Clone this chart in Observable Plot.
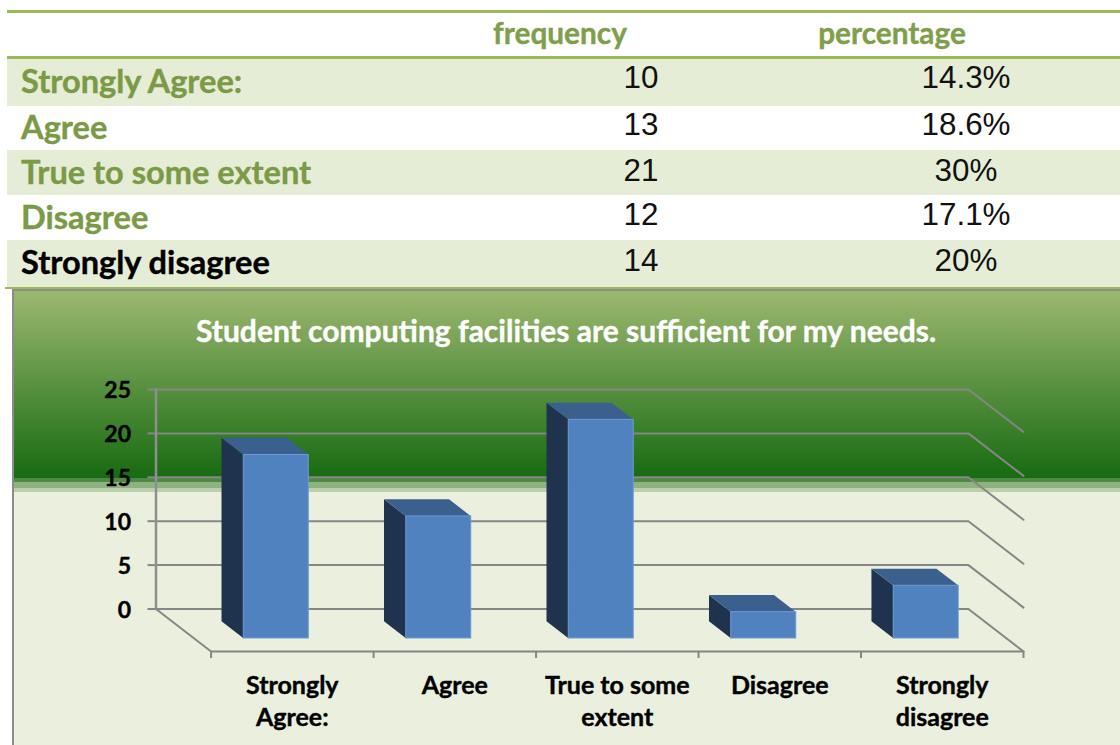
<!DOCTYPE html>
<html><head><meta charset="utf-8">
<script src="https://cdn.jsdelivr.net/npm/d3@7"></script>
<script src="https://cdn.jsdelivr.net/npm/@observablehq/plot@0.6"></script>
<style>
html,body{margin:0;padding:0;background:#fff;}
#page{position:relative;width:1120px;height:745px;overflow:hidden;font-variant-ligatures:none;}
.rule{position:absolute;background:#9BBB59;}
.band{position:absolute;left:7px;right:0;background:#E6EDD7;}
.t{position:absolute;white-space:nowrap;transform:translate(0,-50%);line-height:1;}
.lab{font:700 32.6px Lato,sans-serif;color:#7A9A45;-webkit-text-stroke:.4px currentColor;}
.num{font:400 31.4px "Liberation Sans",Arial,sans-serif;color:#111;transform:translate(-50%,-50%);}
.head{font:700 29.8px Lato,sans-serif;color:#7F9F4C;transform:translate(-50%,-50%);-webkit-text-stroke:.4px currentColor;}
#panel{position:absolute;left:12px;right:0;top:289px;height:456px;box-sizing:border-box;
 border-left:2.5px solid #8c8c8c;border-top:2px solid #8c8c8c;
 background:linear-gradient(to bottom,#9CB86F 0px,#176B12 187px,#4F8A45 187px,#4F8A45 191px,#8FB282 191px,#8FB282 197px,#BBD0AA 197px,#BBD0AA 201px,#EBEFDE 201px);}
#title{position:absolute;left:-14.5px;width:1133px;top:21px;text-align:center;font:700 30px Lato,sans-serif;color:#fff;line-height:36px;white-space:nowrap;-webkit-text-stroke:.4px #fff;}
#chart{position:absolute;left:0;top:371px;}
</style></head>
<body><div id="page"></div>
<script>
const categories = ["Strongly Agree:", "Agree", "True to some extent", "Disagree", "Strongly disagree"];
const axisLabels = ["Strongly\nAgree:", "Agree", "True to some\nextent", "Disagree", "Strongly\ndisagree"];
const frequency = ["10", "13", "21", "12", "14"];
const percentage = ["14.3%", "18.6%", "30%", "17.1%", "20%"];
const columnHeads = ["frequency", "percentage"];
const barValues = [20.9, 13.9, 24.9, 3, 6];
const yTicks = [0, 5, 10, 15, 20, 25];
const chartTitle = "Student computing facilities are sufficient for my needs.";

const page = document.getElementById("page");
function add(cls, css, text) {
  const d = document.createElement("div");
  d.className = cls; d.style.cssText = css;
  if (text != null) d.textContent = text;
  page.appendChild(d); return d;
}
// table
const rowTops = [59, 106, 150, 195, 240, 287];
[0, 2, 4].forEach(i => add("band", `top:${rowTops[i]}px;height:${rowTops[i+1]-rowTops[i]}px`));
add("rule", "left:7px;right:0;top:10px;height:3px");
add("rule", "left:7px;right:0;top:56px;height:3px");
add("rule", "left:5px;right:0;top:287px;height:2px");
add("t head", "left:560px;top:32px", columnHeads[0]);
add("t head", "left:892px;top:32px", columnHeads[1]);
const labelY = [80, 126, 171, 216, 261], valueY = [78, 125, 171, 215, 261];
categories.forEach((c, i) => {
  add("t lab", `left:21px;top:${labelY[i]}px;${i === 4 ? "color:#000" : ""}`, c);
  add("t num", `left:641px;top:${valueY[i]}px`, frequency[i]);
  add("t num", `left:966px;top:${valueY[i]}px`, percentage[i]);
});
// chart panel
const panel = add("", "");
panel.id = "panel";
const title = document.createElement("div");
title.id = "title"; title.textContent = chartTitle; panel.appendChild(title);

// pseudo-3D projection in data units: depth 0 = back wall, 1 = front edge of floor
const depthX = 0.339, depthY = 4.84;
const px = (c, d) => c - (1 - d) * depthX;
const py = (v, d) => v - d * depthY;
const n = categories.length;

const gridLines = yTicks.flatMap(t => [
  {t, x: px(0, 0), y: py(t, 0)},
  {t, x: px(n, 0), y: py(t, 0)},
  {t, x: px(n, 1), y: py(t, 1)}
]);
const wall = [{x: px(0, 0), y: 0}, {x: px(0, 0), y: 25}];
const floorEdge = [
  {x: px(0, 0), y: py(0, 0)}, {x: px(0, 1), y: py(0, 1)}, {x: px(n, 1), y: py(0, 1)}
];
const floorTicks = d3.range(n + 1).map(i => ({x: i, y1: py(0, 1), y2: py(0, 1) - 0.8}));

const dFront = 0.694, dBack = 0.29, left = 0.305, right = 0.705;
const faces = (fn) => barValues.flatMap((v, i) => fn(v, i).map(([c, val, d]) => ({id: i, x: px(c, d), y: py(val, d)})));
const sideFaces = faces((v, i) => [[i+left,0,dFront],[i+left,v,dFront],[i+left,v,dBack],[i+left,0,dBack],[i+left,0,dFront]]);
const topFaces = faces((v, i) => [[i+left,v,dFront],[i+right,v,dFront],[i+right,v,dBack],[i+left,v,dBack],[i+left,v,dFront]]);
const frontFaces = barValues.map((v, i) => ({
  x1: px(i+left, dFront), x2: px(i+right, dFront), y1: py(0, dFront), y2: py(v, dFront)
}));
const labelData = axisLabels.map((l, i) => ({l, x: i + 0.5, y: py(0, 1)}));

const gray = "#868686";
const chart = Plot.plot({
  width: 1120, height: 374,
  marginLeft: 155.5, marginRight: 97, marginTop: 18, marginBottom: 136.5,
  style: {background: "transparent", overflow: "visible"},
  x: {type: "linear", domain: [-depthX, n], axis: null},
  y: {type: "linear", domain: [0, 25], axis: null},
  marks: [
    Plot.axisY({ticks: yTicks, tickSize: 8, text: null, stroke: gray, strokeWidth: 2, label: null}),
    Plot.axisY({ticks: yTicks, tickSize: 0, tickPadding: 25, dy: 1.5,
      fill: "#000", fontSize: 23, fontWeight: 700, fontFamily: "Lato, sans-serif", label: null,
      textStroke: "#000", textStrokeWidth: 0.4}),
    Plot.line(gridLines, {x: "x", y: "y", z: "t", stroke: gray, strokeWidth: 2}),
    Plot.line(wall, {x: "x", y: "y", stroke: "#8f8f8f", strokeWidth: 2.5}),
    Plot.line(floorEdge, {x: "x", y: "y", stroke: gray, strokeWidth: 2}),
    Plot.ruleX(floorTicks, {x: "x", y1: "y1", y2: "y2", stroke: gray, strokeWidth: 2}),
    Plot.line(sideFaces, {x: "x", y: "y", z: "id", fill: "#1F324E", stroke: "none"}),
    Plot.line(topFaces, {x: "x", y: "y", z: "id", fill: "#3C608E", stroke: "none"}),
    Plot.rect(frontFaces, {x1: "x1", x2: "x2", y1: "y1", y2: "y2", fill: "#5082BF", stroke: "#6E9BD2", strokeWidth: 1}),
    Plot.text(labelData, {x: "x", y: "y", text: "l", dy: 19, lineAnchor: "top", lineHeight: 1.3,
      fontSize: 25, fontWeight: 700, fontFamily: "Lato, sans-serif", fill: "#000", stroke: "#000", strokeWidth: 0.4})
  ]
});
chart.id = "chart";
page.appendChild(chart);
</script></body></html>
